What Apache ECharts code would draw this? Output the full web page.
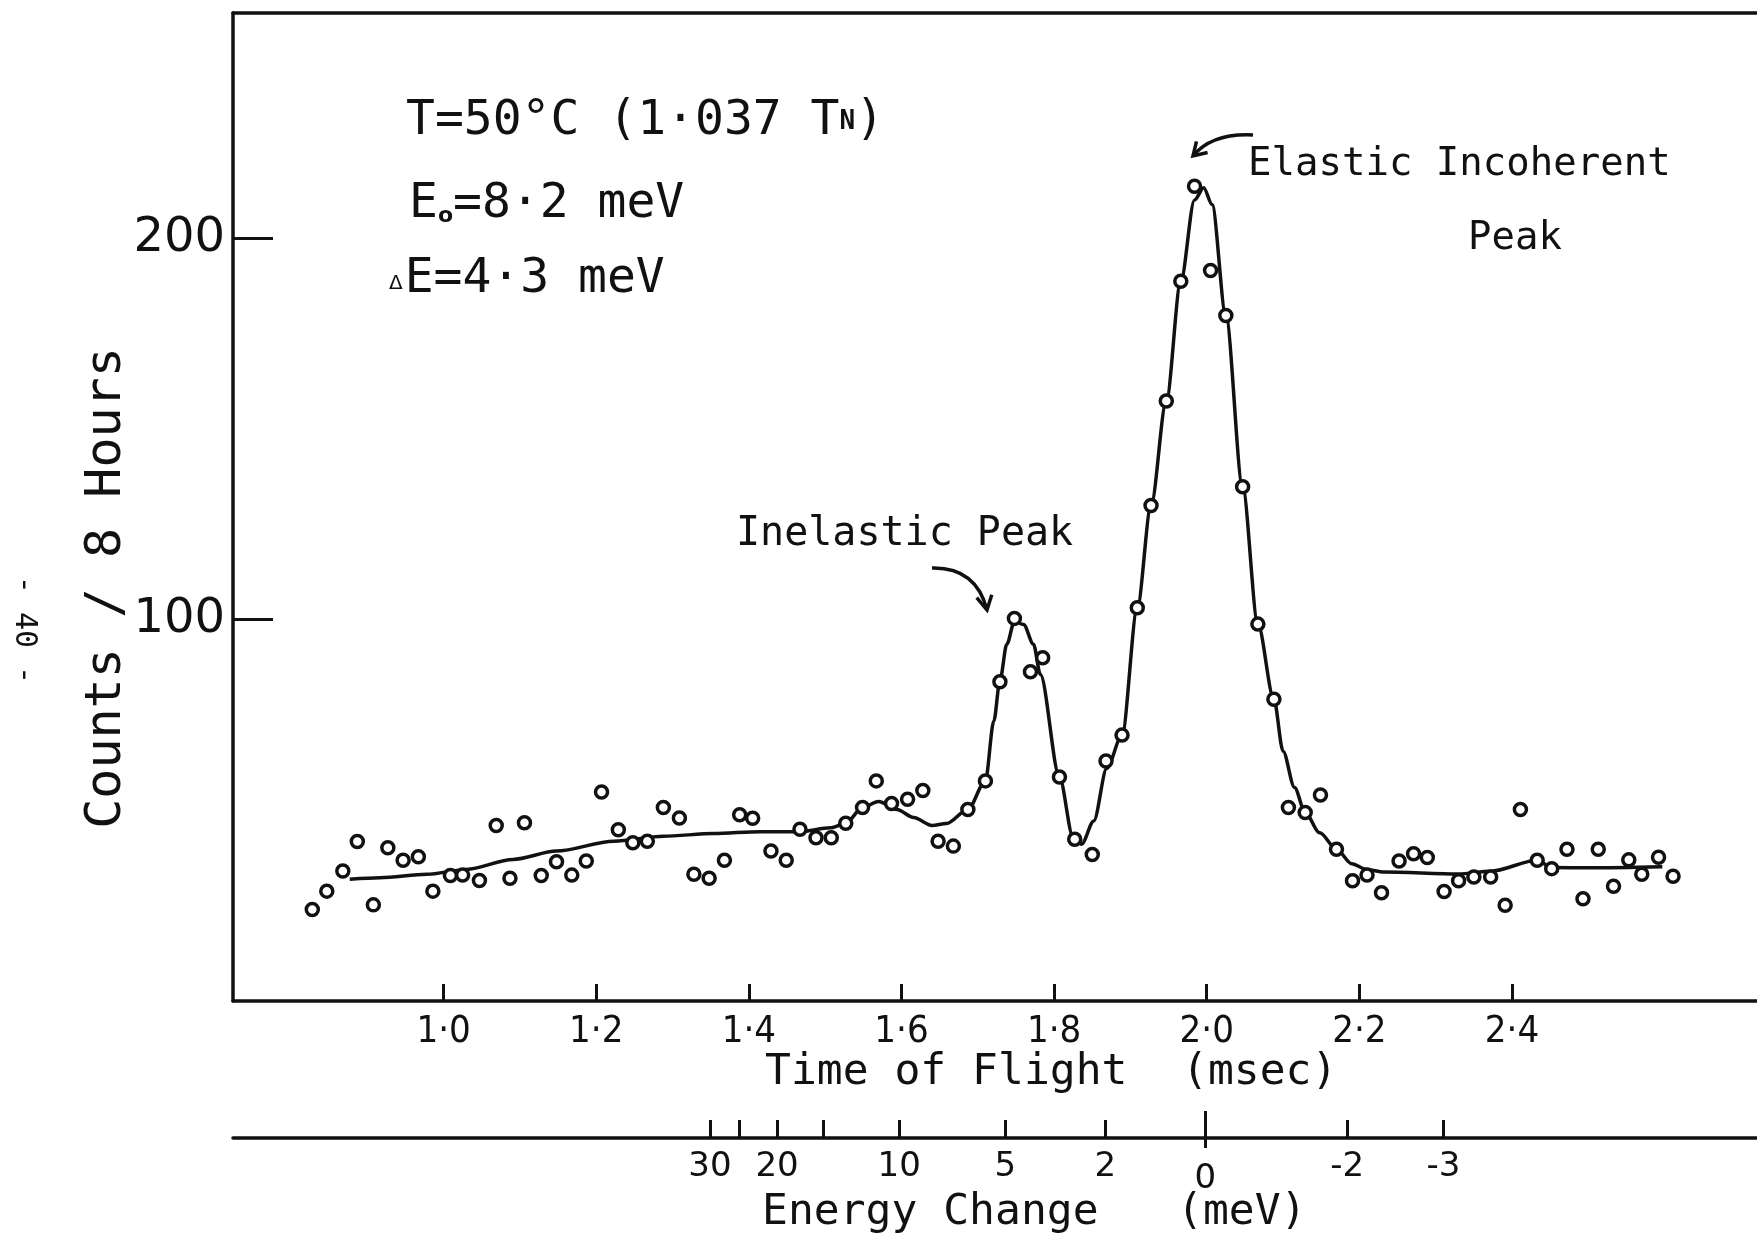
<!DOCTYPE html>
<html><head><meta charset="utf-8">
<script src="https://cdn.jsdelivr.net/npm/echarts@6/dist/echarts.min.js"></script>
<style>html,body{margin:0;padding:0;background:#fff}#c{width:1757px;height:1243px}</style>
</head><body><div id="c"></div>
<script>
// ---- data ----
const tof = [0.828,0.847,0.868,0.887,0.908,0.927,0.947,0.967,0.986,1.009,
  1.025,1.047,1.069,1.087,1.106,1.128,1.148,1.168,1.187,1.207,
  1.229,1.248,1.267,1.288,1.309,1.328,1.348,1.368,1.388,1.405,
  1.429,1.449,1.467,1.488,1.508,1.527,1.549,1.567,1.587,1.608,
  1.628,1.648,1.668,1.687,1.710,1.729,1.748,1.769,1.785,1.807,
  1.827,1.850,1.868,1.889,1.909,1.927,1.947,1.966,1.984,2.005,
  2.025,2.047,2.067,2.088,2.107,2.129,2.149,2.170,2.191,2.210,
  2.229,2.252,2.271,2.289,2.311,2.330,2.350,2.372,2.391,2.411,
  2.433,2.452,2.472,2.493,2.513,2.533,2.553,2.570,2.592,2.611];
const counts = [24.0,28.8,34.1,41.8,25.2,40.2,36.9,37.8,28.8,32.9,
  33.0,31.6,46.0,32.2,46.7,32.9,36.5,33.0,36.7,54.8,
  44.9,41.5,41.9,50.7,48.0,33.2,32.2,36.9,48.8,47.9,
  39.3,36.9,45.0,42.8,42.8,46.6,50.7,57.7,51.8,52.9,
  55.2,41.9,40.6,50.2,57.7,83.7,100.3,86.3,90.0,58.7,
  42.4,38.4,62.9,69.7,103.1,129.9,157.3,188.7,213.6,191.5,
  179.7,134.8,98.8,79.1,50.7,49.4,54.0,39.8,31.5,33.0,
  28.4,36.7,38.6,37.6,28.7,31.5,32.5,32.5,25.1,50.2,
  36.9,34.7,39.8,26.8,39.8,30.1,37.0,33.2,37.7,32.7];
const curveTof = [0.877,0.917,0.978,1.030,1.091,1.148,1.223,1.288,1.354,1.415,
  1.467,1.507,1.527,1.549,1.570,1.594,1.616,1.640,1.659,1.687,
  1.710,1.721,1.729,1.738,1.748,1.760,1.773,1.782,1.807,1.825,
  1.836,1.852,1.869,1.889,1.909,1.927,1.947,1.966,1.984,1.996,
  2.007,2.025,2.047,2.067,2.088,2.100,2.115,2.129,2.148,2.170,
  2.190,2.209,2.232,2.330,2.372,2.433,2.452,2.500,2.597];
const curveCounts = [31.9,32.3,33.2,34.5,37.1,39.3,41.9,43.2,43.9,44.4,
  44.4,45.4,46.6,50.7,52.3,50.2,48.1,46.0,46.5,50.2,
  57.7,73.4,84.0,93.5,99.5,98.7,93.5,85.6,58.7,42.8,
  41.1,47.2,61.0,69.7,103.1,129.9,157.3,188.7,210.0,213.2,
  208.8,179.7,134.8,98.8,79.1,65.5,56.0,49.4,44.1,39.8,
  36.0,34.5,33.8,33.3,34.0,36.9,35.0,34.9,35.2];
const tofTicks = [1.0,1.2,1.4,1.6,1.8,2.0,2.2,2.4];
const yTicks = [100,200];
const energyTickTof = [1.349,1.388,1.437,1.497,1.597,1.736,1.867,1.998,2.184,2.310];
const energyTickLabels = ['30','','20','','10','5','2','0','-2','-3'];
const energyZeroTof = [1.998];
const xRange = [0.7241, 2.721];
const yRange = [0, 259];

// ---- chart ----
const INK = '#111';
const MONO = '"DejaVu Sans Mono", monospace';
const SANS = '"DejaVu Sans", sans-serif';
const NARROW = '"Liberation Sans Narrow", "DejaVu Sans Condensed", "Liberation Sans", sans-serif';

const pts = tof.map((t, i) => [t, counts[i]]);
const curve = curveTof.map((t, i) => [t, curveCounts[i]]);
const energyLabelTof = energyTickTof.filter((t, i) => energyTickLabels[i] !== '');

function txt(text, x, y, size, extra) {
  return Object.assign({
    type: 'text', x: x, y: y,
    style: Object.assign({
      text: text, fontSize: size, fontFamily: MONO, fill: INK,
      align: 'left', verticalAlign: 'middle', textAlign: 'left', textVerticalAlign: 'middle'
    }, extra && extra.style || {})
  }, extra && extra.el || {});
}
function arrowHead(tip, from, len, ang) {
  const dx = from[0] - tip[0], dy = from[1] - tip[1];
  const L = Math.hypot(dx, dy), ux = dx / L, uy = dy / L;
  const r = a => [tip[0] + len * (ux * Math.cos(a) - uy * Math.sin(a)), tip[1] + len * (ux * Math.sin(a) + uy * Math.cos(a))];
  return { type: 'polyline', shape: { points: [r(ang), tip, r(-ang)] },
    style: { stroke: INK, lineWidth: 3.5, fill: null, lineJoin: 'miter' } };
}

const chart = echarts.init(document.getElementById('c'), null, { renderer: 'canvas' });
const axisLine = { show: true, onZero: false, lineStyle: { color: INK, width: 3.5 } };
chart.setOption({
  animation: false,
  backgroundColor: '#fff',
  grid: { left: 233, right: 0, top: 13, bottom: 242, outerBoundsMode: 'none', containLabel: false },
  xAxis: [
    { type: 'value', min: xRange[0], max: xRange[1], position: 'bottom',
      axisLine: axisLine, splitLine: { show: false },
      axisTick: { show: true, inside: true, length: 17, customValues: tofTicks, lineStyle: { color: INK, width: 3 } },
      axisLabel: { show: true, customValues: tofTicks, margin: 12, color: INK, fontSize: 38, fontFamily: NARROW,
        formatter: v => v.toFixed(1).replace('.', '·') } },
    { type: 'value', min: xRange[0], max: xRange[1], position: 'bottom', offset: 137,
      axisLine: axisLine, splitLine: { show: false },
      axisTick: { show: true, inside: true, length: 18, customValues: energyTickTof, lineStyle: { color: INK, width: 3 } },
      axisLabel: { show: true, customValues: energyLabelTof, margin: 12, color: INK, fontSize: 34, fontFamily: SANS,
        formatter: v => { const i = energyTickTof.findIndex(t => Math.abs(t - v) < 1e-6); const s = energyTickLabels[i]; return s === '0' ? '{z|0}' : s; },
        rich: { z: { fontSize: 34, fontFamily: SANS, color: INK, padding: [12, 0, 0, 0] } } } },
    { type: 'value', min: xRange[0], max: xRange[1], position: 'bottom', offset: 137,
      axisLine: { show: false, onZero: false }, splitLine: { show: false }, axisLabel: { show: false },
      axisTick: { show: true, inside: true, length: 27, customValues: energyZeroTof, lineStyle: { color: INK, width: 3 } } },
    { type: 'value', min: xRange[0], max: xRange[1], position: 'bottom', offset: 137,
      axisLine: { show: false, onZero: false }, splitLine: { show: false }, axisLabel: { show: false },
      axisTick: { show: true, inside: false, length: 10, customValues: energyZeroTof, lineStyle: { color: INK, width: 3 } } },
    { type: 'value', min: xRange[0], max: xRange[1], position: 'top',
      axisLine: axisLine, splitLine: { show: false }, axisLabel: { show: false }, axisTick: { show: false } }
  ],
  yAxis: [
    { type: 'value', min: yRange[0], max: yRange[1], position: 'left',
      axisLine: axisLine, splitLine: { show: false },
      axisTick: { show: true, inside: true, length: 40, customValues: yTicks, lineStyle: { color: INK, width: 3 } },
      axisLabel: { show: true, customValues: yTicks, margin: 8, color: INK, fontSize: 48, fontFamily: SANS } }
  ],
  series: [
    { type: 'line', data: curve, xAxisIndex: 0, yAxisIndex: 0, smooth: 0.3, smoothMonotone: 'x',
      showSymbol: false, symbol: 'none', lineStyle: { color: INK, width: 3.5 }, z: 2, silent: true },
    { type: 'scatter', data: pts, xAxisIndex: 0, yAxisIndex: 0, symbol: 'circle', symbolSize: 12,
      itemStyle: { color: '#fff', borderColor: INK, borderWidth: 3.5, opacity: 1 }, z: 3, silent: true }
  ],
  graphic: [
    txt('T=50°C (1·037 T{n|N})', 406, 122, 48, { style: { rich: { n: { fontSize: 26, fontFamily: MONO, fill: INK, fontWeight: 'bold' } } } }),
    txt('E{o|o}=8·2 meV', 409, 205, 48, { style: { rich: { o: { fontSize: 22, fontFamily: SANS, fill: INK, fontWeight: 'bold', padding: [22, 0, 0, 0] } } } }),
    txt('{d|Δ}E=4·3 meV', 389, 280, 48, { style: { rich: { d: { fontSize: 20, fontFamily: SANS, fill: INK, padding: [8, 2, 0, 0] } } } }),
    txt('Elastic Incoherent', 1248, 165, 39),
    txt('Peak', 1468, 239, 39),
    txt('Inelastic Peak', 736, 535, 40),
    txt('Time of Flight', 765, 1073, 43),
    txt('(msec)', 1182, 1073, 43),
    txt('Energy Change', 762, 1213, 43),
    txt('(meV)', 1177, 1213, 43),
    txt('Counts / 8 Hours', 107, 588, 50, { style: { align: 'center', textAlign: 'center' }, el: { rotation: Math.PI / 2 } }),
    txt('- 40 -', 24, 630, 30, { style: { align: 'center', textAlign: 'center' }, el: { rotation: -Math.PI / 2 } }),
    { type: 'bezierCurve', shape: { x1: 932, y1: 568, cpx1: 976, cpy1: 567, x2: 987, y2: 610 },
      style: { stroke: INK, lineWidth: 3.5, fill: null } },
    arrowHead([987, 610], [983, 590], 16, 0.5),
    { type: 'bezierCurve', shape: { x1: 1253, y1: 135, cpx1: 1212, cpy1: 133, x2: 1193, y2: 156 },
      style: { stroke: INK, lineWidth: 3.5, fill: null } },
    arrowHead([1193, 156], [1205, 144], 15, 0.55)
  ]
});
</script>
</body></html>
